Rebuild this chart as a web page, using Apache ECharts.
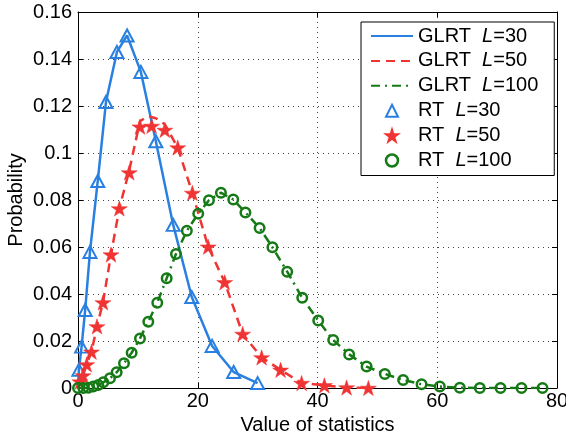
<!DOCTYPE html>
<html>
<head>
<meta charset="utf-8">
<script src="https://cdn.jsdelivr.net/npm/echarts@6/dist/echarts.min.js"></script>
<style>html,body{margin:0;padding:0;background:#fff}#c{width:566px;height:441px}</style>
</head>
<body>
<div id="c"></div>
<script>
// ---- data ----
var xTicks = [0, 20, 40, 60, 80];
var yTicks = [0, 0.02, 0.04, 0.06, 0.08, 0.1, 0.12, 0.14, 0.16];

// GLRT curves
var glrt30X = [0, 0.15, 0.6, 1.2, 2.0, 3.3, 4.67, 6.5, 8.2, 10.5, 13.0, 15.9, 19.0, 22.4, 26.0, 30.0];
var glrt30Y = [0.001, 0.0077, 0.0176, 0.0332, 0.0579, 0.0881, 0.1217, 0.143, 0.150, 0.1345, 0.105, 0.0694, 0.0387, 0.0179, 0.0068, 0.0021];

var glrt50X = [0, 0.33, 0.83, 1.45, 2.25, 3.17, 4.17, 5.51, 6.9, 8.55, 10.35, 11.7, 13.0, 14.5, 16.66, 19.1, 21.75, 24.5, 27.5, 30.67, 33.84, 37.35, 41.15, 44.86, 48.5];
var glrt50Y = [0, 0.0027, 0.0053, 0.010, 0.0154, 0.0262, 0.0364, 0.0568, 0.0764, 0.0925, 0.1135, 0.1157, 0.1148, 0.1122, 0.1023, 0.083, 0.0601, 0.045, 0.023, 0.013, 0.0077, 0.0021, 0.0011, 0.0002, 0];

var glrt100X = [0, 0.88, 1.72, 2.55, 3.39, 4.22, 5.34, 6.46, 7.68, 8.96, 10.35, 11.74, 13.24, 14.81, 16.36, 18.18, 20.08, 21.87, 23.87, 25.93, 27.96, 30.33, 32.47, 34.94, 37.45, 40.12, 42.62, 45.29, 48.2, 51.25, 54.3, 57.38, 60.43, 63.77, 67.11, 70.57, 74.07, 77.58];
var glrt100Y = [0, 0, 0.0001, 0.0006, 0.0013, 0.0024, 0.0041, 0.0067, 0.0105, 0.015, 0.0211, 0.0282, 0.0363, 0.0467, 0.057, 0.0669, 0.0742, 0.0799, 0.0831, 0.0802, 0.0747, 0.0681, 0.0599, 0.0495, 0.0384, 0.0287, 0.0204, 0.0143, 0.0091, 0.006, 0.0034, 0.0016, 0.0006, 0.0001, 0, 0, 0, 0];

// RT markers
var rt30X = [0.15, 0.6, 1.2, 2.0, 3.3, 4.67, 6.5, 8.2, 10.5, 13.0, 15.9, 19.0, 22.4, 26.0, 30.0];
var rt30Y = [0.0077, 0.0176, 0.0332, 0.0579, 0.0881, 0.1217, 0.143, 0.150, 0.1345, 0.105, 0.0694, 0.0387, 0.0179, 0.0068, 0.0021];

var rt50X = [0.33, 0.83, 1.45, 2.25, 3.17, 4.17, 5.51, 6.9, 8.55, 10.35, 12.3, 14.5, 16.66, 19.1, 21.75, 24.5, 27.5, 30.67, 33.84, 37.35, 41.15, 44.86, 48.5];
var rt50Y = [0.0027, 0.0053, 0.010, 0.0154, 0.0262, 0.0364, 0.0568, 0.0764, 0.0917, 0.1112, 0.1115, 0.1098, 0.1023, 0.083, 0.0601, 0.045, 0.023, 0.013, 0.0077, 0.0021, 0.0011, 0.0002, 0];

var rt100X = [0, 0.88, 1.72, 2.55, 3.39, 4.22, 5.34, 6.46, 7.68, 8.96, 10.35, 11.74, 13.24, 14.81, 16.36, 18.18, 20.08, 21.87, 23.87, 25.93, 27.96, 30.33, 32.47, 34.94, 37.45, 40.12, 42.62, 45.29, 48.2, 51.25, 54.3, 57.38, 60.43, 63.77, 67.11, 70.57, 74.07, 77.58];
var rt100Y = [0, 0, 0.0001, 0.0006, 0.0013, 0.0024, 0.0041, 0.0067, 0.0105, 0.015, 0.0211, 0.0282, 0.0363, 0.0467, 0.057, 0.0669, 0.0742, 0.0799, 0.0831, 0.0802, 0.0747, 0.0681, 0.0599, 0.0495, 0.0384, 0.0287, 0.0204, 0.0143, 0.0091, 0.006, 0.0034, 0.0016, 0.0006, 0.0001, 0, 0, 0, 0];

function pairs(xs, ys) { return xs.map(function (x, i) { return [x, ys[i]]; }); }

var BLUE = '#2a80e0', RED = '#f03333', GREEN = '#157a15';
var FONT = 'Liberation Sans';
var FS = 20;
var STAR = 'path://M50 0 L61.23 34.55 L97.55 34.55 L68.17 55.9 L79.39 90.45 L50 69.1 L20.61 90.45 L31.83 55.9 L2.45 34.55 L38.77 34.55 Z';

var chart = echarts.init(document.getElementById('c'), null, {renderer: 'canvas'});
var tickStyle = {show: true, inside: true, length: 5, lineStyle: {color: '#000', width: 1}};
var frameLine = {show: true, onZero: false, lineStyle: {color: '#000', width: 1}};
var gridLine = {show: true, lineStyle: {color: '#444', width: 1, type: [1, 4]}};
var hideSym = {opacity: 0, color: 'rgba(0,0,0,0)', borderWidth: 0};
var hideLine = {opacity: 0, width: 0};

chart.setOption({
  animation: false,
  backgroundColor: '#fff',
  textStyle: {fontFamily: FONT},
  grid: {left: 78, right: 9, top: 12, bottom: 53, containLabel: false, outerBoundsMode: 'none'},
  legend: {
    left: 361, top: 22, orient: 'vertical',
    itemWidth: 42, itemHeight: 15, itemGap: 4.9,
    padding: [4, 16, 5, 9],
    backgroundColor: '#fff', borderColor: '#000', borderWidth: 1, borderRadius: 0,
    textStyle: {fontFamily: FONT, fontSize: FS, color: '#000', lineHeight: 20,
      rich: {i: {fontStyle: 'italic', fontFamily: FONT, fontSize: FS, lineHeight: 20, color: '#000'}}},
    formatter: function (name) { return name.replace('L=', '{i|L}='); },
    data: [
      {name: 'GLRT  L=30', itemStyle: hideSym},
      {name: 'GLRT  L=50', itemStyle: hideSym},
      {name: 'GLRT  L=100', itemStyle: hideSym},
      {name: 'RT  L=30', lineStyle: hideLine, itemStyle: {borderWidth: 2}},
      {name: 'RT  L=50', lineStyle: hideLine},
      {name: 'RT  L=100', lineStyle: hideLine, itemStyle: {borderWidth: 2.5}}
    ]
  },
  xAxis: [{
    type: 'value', min: 0, max: 80, interval: 20,
    name: 'Value of statistics', nameLocation: 'middle', nameGap: 27, nameMoveOverlap: false,
    nameTextStyle: {fontFamily: FONT, fontSize: FS, color: '#000'},
    axisLine: frameLine, axisTick: tickStyle, splitLine: gridLine,
    axisLabel: {fontFamily: FONT, fontSize: FS, color: '#000', margin: 3}
  }, {
    type: 'value', min: 0, max: 80, interval: 20, position: 'top',
    axisLine: frameLine, axisTick: tickStyle, splitLine: {show: false}, axisLabel: {show: false}
  }],
  yAxis: [{
    type: 'value', min: 0, max: 0.16, interval: 0.02,
    name: 'Probability', nameLocation: 'middle', nameGap: 52, nameMoveOverlap: false,
    nameTextStyle: {fontFamily: FONT, fontSize: FS, color: '#000'},
    axisLine: frameLine, axisTick: tickStyle, splitLine: gridLine,
    axisLabel: {fontFamily: FONT, fontSize: FS, color: '#000', margin: 6,
      formatter: function (v) { var r = Math.round(v * 100) / 100; return r === 0 ? '0' : (Math.round(r * 10) === r * 10 ? r.toFixed(1) : r.toFixed(2)); }}
  }, {
    type: 'value', min: 0, max: 0.16, interval: 0.02, position: 'right',
    axisLine: frameLine, axisTick: tickStyle, splitLine: {show: false}, axisLabel: {show: false}
  }],
  series: [
    {name: 'GLRT  L=30', type: 'line', symbol: 'none', showSymbol: false, data: pairs(glrt30X, glrt30Y),
      lineStyle: {color: BLUE, width: 2.5}, itemStyle: {color: BLUE}, z: 2},
    {name: 'GLRT  L=50', type: 'line', symbol: 'none', showSymbol: false, data: pairs(glrt50X, glrt50Y),
      lineStyle: {color: RED, width: 2.5, type: [9, 6]}, itemStyle: {color: RED}, z: 2},
    {name: 'GLRT  L=100', type: 'line', symbol: 'none', showSymbol: false, data: pairs(glrt100X, glrt100Y),
      lineStyle: {color: GREEN, width: 2.5, type: [9, 5, 2, 5]}, itemStyle: {color: GREEN}, z: 2},
    {name: 'RT  L=30', type: 'line', symbol: 'triangle', symbolSize: [13, 12], showAllSymbol: true, data: pairs(rt30X, rt30Y),
      lineStyle: {opacity: 0, width: 0}, itemStyle: {color: 'rgba(255,255,255,0)', borderColor: BLUE, borderWidth: 2}, z: 3},
    {name: 'RT  L=50', type: 'line', symbol: STAR, symbolSize: 16, symbolKeepAspect: true, showAllSymbol: true, data: pairs(rt50X, rt50Y),
      lineStyle: {opacity: 0, width: 0}, itemStyle: {color: RED, borderColor: RED, borderWidth: 0.5}, z: 3},
    {name: 'RT  L=100', type: 'line', symbol: 'circle', symbolSize: 9.5, showAllSymbol: true, data: pairs(rt100X, rt100Y),
      lineStyle: {opacity: 0, width: 0}, itemStyle: {color: 'rgba(255,255,255,0)', borderColor: GREEN, borderWidth: 2.5}, z: 3}
  ]
});
</script>
</body>
</html>
